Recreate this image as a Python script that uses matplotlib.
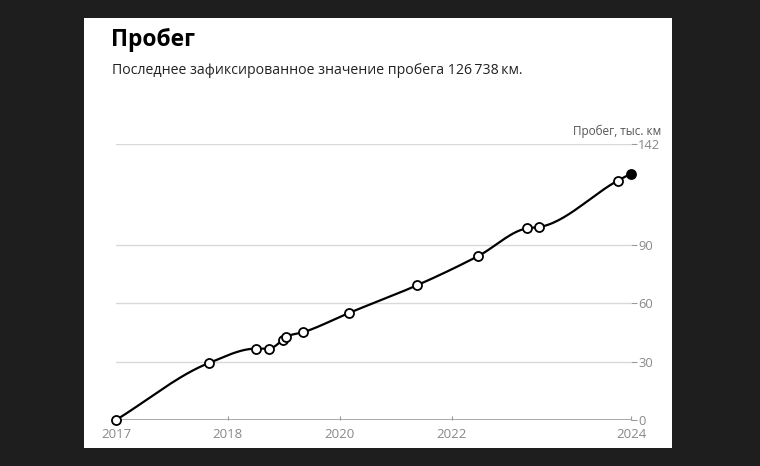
import numpy as np
import matplotlib
matplotlib.use("Agg")
import matplotlib.pyplot as plt
from matplotlib.patches import Rectangle

plt.rcParams['font.family'] = ['Open Sans', 'DejaVu Sans']

# Data (x in chart time units, y in thousand km)
dates_x = [2016.0, 2017.66, 2018.5, 2018.73, 2018.98, 2019.04, 2019.34,
           2020.16, 2021.39, 2022.48, 2023.35, 2023.57, 2024.97, 2025.21]
mileage = [0.0, 29.3, 36.7, 36.7, 41.2, 42.9, 45.1,
           55.0, 69.4, 84.4, 98.6, 99.3, 123.1, 126.738]
x_tick_pos = [2016.0, 2018.0, 2020.0, 2022.0, 2025.21]
x_tick_labels = ["2017", "2018", "2020", "2022", "2024"]
y_ticks = [0, 30, 60, 90, 142]


def monotone_curve(x, y, n=30):
    x = np.asarray(x, float); y = np.asarray(y, float)
    h = np.diff(x); d = np.diff(y) / h
    m = np.zeros_like(y)
    m[0] = d[0]; m[-1] = d[-1]
    for i in range(1, len(x) - 1):
        if d[i - 1] * d[i] <= 0:
            m[i] = 0
        else:
            w1 = 2 * h[i] + h[i - 1]; w2 = h[i] + 2 * h[i - 1]
            m[i] = (w1 + w2) / (w1 / d[i - 1] + w2 / d[i])
    xs, ys = [], []
    for i in range(len(x) - 1):
        t = np.linspace(0, 1, n)
        h00 = 2 * t**3 - 3 * t**2 + 1; h10 = t**3 - 2 * t**2 + t
        h01 = -2 * t**3 + 3 * t**2; h11 = t**3 - t**2
        xs.append(x[i] + t * h[i])
        ys.append(h00 * y[i] + h10 * h[i] * m[i] + h01 * y[i + 1] + h11 * h[i] * m[i + 1])
    return np.concatenate(xs), np.concatenate(ys)


W, H = 760, 466
fig = plt.figure(figsize=(W / 100, H / 100), dpi=100, facecolor='#1e1e1e')
card = Rectangle((84 / W, 1 - 448 / H), (672 - 84) / W, (448 - 18) / H,
                 transform=fig.transFigure, facecolor='white', edgecolor='none', zorder=-10)
fig.add_artist(card)

left, right, top, bottom = 116, 631, 144, 420
ax = fig.add_axes([left / W, 1 - bottom / H, (right - left) / W, (bottom - top) / H])
ax.set_zorder(5)
ax.set_facecolor('none')
ax.set_xlim(x_tick_pos[0], x_tick_pos[-1])
ax.set_ylim(0, 142)

for yt in y_ticks[1:]:
    ax.axhline(yt, color='#d9d9d9', lw=1, zorder=1)
ax.axhline(0, color='#9a9a9a', lw=1.2, zorder=1)

cx, cy = monotone_curve(dates_x, mileage)
ax.plot(cx, cy, color='black', lw=1.6, zorder=3, clip_on=False)
ax.plot(dates_x[:-1], mileage[:-1], 'o', ms=6.5, mfc='white', mec='black', mew=1.3,
        zorder=4, clip_on=False)
ax.plot(dates_x[-1:], mileage[-1:], 'o', ms=6.5, mfc='black', mec='black', mew=1.3,
        zorder=4, clip_on=False)

for s in ax.spines.values():
    s.set_visible(False)
ax.yaxis.tick_right()
ax.set_yticks(y_ticks)
ax.set_yticklabels([str(v) for v in y_ticks])
ax.tick_params(axis='y', length=4, width=0.8, color='#9a9a9a', labelcolor='#888888',
               labelsize=9.3, pad=1)
ax.set_xticks(x_tick_pos)
ax.set_xticklabels(x_tick_labels)
ax.tick_params(axis='x', direction='in', length=3, width=0.8, color='#9a9a9a',
               labelcolor='#888888', labelsize=9.5, pad=5.5)

fig.text(661 / W, 1 - 131 / H, "Пробег, тыс. км", ha='right', va='center',
         fontsize=8.5, color='#555555')
fig.text(111 / W, 1 - 40 / H, "Пробег", ha='left', va='center', fontsize=16.5,
         fontweight='bold', color='black')
fig.text(112 / W, 1 - 71 / H, "Последнее зафиксированное значение пробега 126\u2009738\u2009км.",
         ha='left', va='center', fontsize=10.2, color='#222222')

fig.savefig("out.png", dpi=100, facecolor=fig.get_facecolor())
